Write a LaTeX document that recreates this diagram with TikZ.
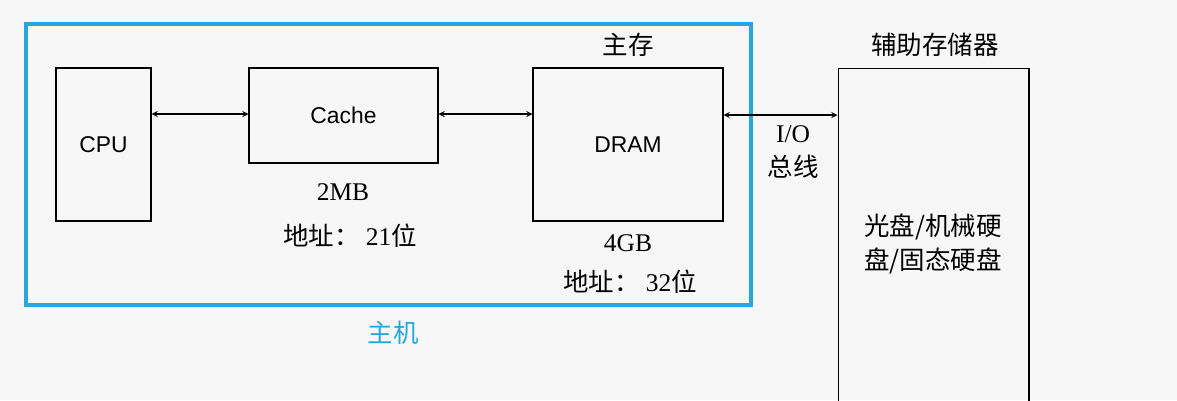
\documentclass[tikz,border=0pt]{standalone}
\usepackage{fontspec}
\setmainfont{Liberation Serif}
\setsansfont{Liberation Sans}
\newfontfamily\cjk{Noto Sans CJK SC}
\usetikzlibrary{positioning}
\definecolor{hostblue}{RGB}{38,168,216}
\begin{document}
\begin{tikzpicture}[x=0.02cm, y=-0.02cm,
    unit/.style={draw, line width=0.6pt, rectangle, inner sep=0pt, font=\sffamily\fontsize{13}{16}\selectfont},
    txt/.style={font=\fontsize{14.5}{19}\selectfont, align=center},
    link/.style={<->, >=stealth, line width=0.6pt}]
		
		%Sfondo e cornice
		\fill[white!97!black] (0,0) rectangle (1177,400);
		\useasboundingbox (0,0) rectangle (1177,400);
		\node(Host) at (388.5,164.5) [draw=hostblue, line width=2pt, minimum width=14.5cm, minimum height=5.62cm, inner sep=0pt]{};
		
		%Rappresento i blocchi
		\node(CPU) at (103.5,144.5) [unit, minimum width=1.9cm, minimum height=3.06cm]{CPU};
		\node(Cache) at (343.5,115.5) [unit, minimum width=3.78cm, minimum height=1.9cm]{Cache};
		\node(DRAM) at (628,144.5) [unit, minimum width=3.8cm, minimum height=3.06cm]{DRAM};
		\node(Disk) at (933.5,243) [unit, minimum width=3.82cm, minimum height=7.0cm]{};
		
		%Rappresento i collegamenti
		\draw[link] (CPU.east |- 0,114) -- (Cache.west |- 0,114);
		\draw[link] (Cache.east |- 0,114) -- (DRAM.west |- 0,114);
		\draw[link] (DRAM.east |- 0,115) -- (Disk.west |- 0,115);
		
		%Etichette
		\node(MainLabel) at (628,45) [txt]{\cjk 主存};
		\node(DiskLabel) at (935,45) [txt]{\cjk 辅助存储器};
		\node(CacheSize) at (343,192) [txt]{2MB};
		\node(CacheAddr) at (350,236) [txt]{{\cjk 地址：}\ 21{\cjk 位}};
		\node(DramSize) at (628,243) [txt]{4GB};
		\node(DramAddr) at (630,282) [txt]{{\cjk 地址：}\ 32{\cjk 位}};
		\node(BusLabel) at (793,152) [txt]{I/O\\{\cjk 总线}};
		\node(DiskText) at (933,244) [txt]{\cjk 光盘/机械硬\\\cjk 盘/固态硬盘};
		\node(HostLabel) at (393,333) [txt, text=hostblue]{\cjk 主机};
		
\end{tikzpicture}
\end{document}
